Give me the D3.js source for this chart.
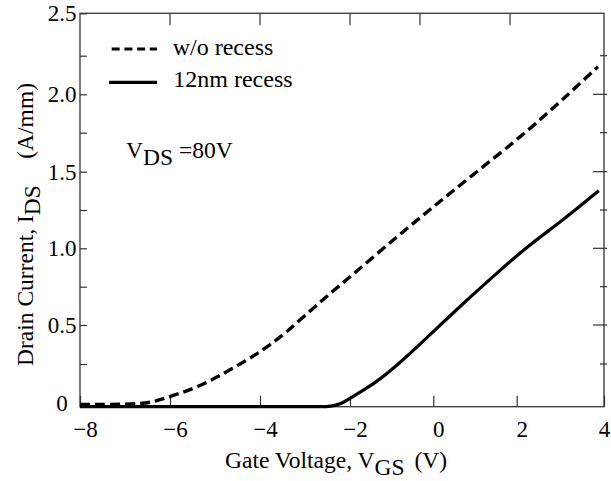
<!DOCTYPE html>
<html>
<head>
<meta charset="utf-8">
<script src="https://cdn.jsdelivr.net/npm/d3@7"></script>
<style>
  html, body { margin: 0; padding: 0; background: #fff; }
  svg { display: block; }
  text { font-family: "Liberation Serif", "Times New Roman", serif; fill: #000; }
</style>
</head>
<body>
<svg id="chart" width="611" height="481"></svg>
<script>
// Gate voltage ticks (V) and drain current ticks (A/mm)
const xTicks = [-8, -6, -4, -2, 0, 2, 4];
const yMajorTicks = [0, 0.5, 1.0, 1.5, 2.0, 2.5];
const yAllTicks = [0, 0.25, 0.5, 0.75, 1.0, 1.25, 1.5, 1.75, 2.0, 2.25, 2.5];
const xTopTicks = [-6, -4, -2, -0.32, 1.84];

// Transfer curve without gate recess (VGS in V, IDS in A/mm)
const vgsNoRecess = [-8, -7.3, -6.67, -6.33, -6.0, -5.33, -4.67, -4.0, -3.45, -2.67, -2.0, -0.8, 0, 0.88, 2.0, 2.53, 2.99, 3.29, 3.86];
const idsNoRecess = [0.013, 0.013, 0.016, 0.030, 0.060, 0.117, 0.215, 0.324, 0.442, 0.650, 0.813, 1.093, 1.270, 1.465, 1.703, 1.833, 1.950, 2.028, 2.179];

// Transfer curve with 12 nm gate recess
const vgsRecess = [-8, -5, -2.8, -2.45, -2.22, -2.0, -1.6, -1.28, -0.72, 0, 0.72, 1.52, 2.23, 3.07, 3.88];
const idsRecess = [0, 0, 0, 0, 0.013, 0.049, 0.108, 0.16, 0.276, 0.457, 0.642, 0.837, 1.01, 1.185, 1.376];

const seriesNames = ["w/o recess", "12nm recess"];

const svg = d3.select("#chart");

// Piecewise scales follow the tick spacing of the printed axes
const x = d3.scaleLinear().domain(xTicks).range([80, 170, 260, 350, 433.3, 516.7, 604]);
const y = d3.scaleLinear().domain(yAllTicks)
  .range([406.7, 364, 325, 286.7, 248.3, 210, 171.7, 132.7, 94.3, 55.7, 13.3]);

const x0 = x(-8), x1 = x(4), yTop = y(2.5), yBot = y(0);
const axisColor = "#333";
const serif = '"Liberation Serif", "Times New Roman", serif';

// Bottom axis: ticks point up into the plot
const gx = svg.append("g").attr("transform", `translate(0,${yBot})`)
  .call(d3.axisBottom(x).tickValues(xTicks).tickSizeInner(-11).tickSizeOuter(0).tickPadding(14)
    .tickFormat(d => d < 0 ? "\u2212" + Math.abs(d) : String(d)));
gx.attr("font-family", serif);
gx.select(".domain").remove();
gx.selectAll(".tick line").attr("stroke", axisColor).attr("stroke-width", 1.2);
gx.selectAll(".tick text").attr("font-size", 23).attr("dx", d => d === 4 ? 0 : 5)
  .style("font-family", serif);

// Left axis: all ticks inward, labels centred in the margin
const gy = svg.append("g").attr("transform", `translate(${x0},0)`)
  .call(d3.axisLeft(y).tickValues(yAllTicks).tickSizeInner(-7).tickSizeOuter(0).tickPadding(18)
    .tickFormat(d => yMajorTicks.includes(d) ? (d === 0 ? "0" : d3.format(".1f")(d)) : ""));
gy.attr("font-family", serif);
gy.select(".domain").remove();
gy.selectAll(".tick line").attr("stroke", axisColor).attr("stroke-width", 1.2);
gy.selectAll(".tick text").attr("font-size", 23).attr("text-anchor", "middle")
  .attr("y", d => d === 0 ? -4 : 0)
  .style("font-family", serif);

// Right axis ticks: majors longer than minors, slightly crossing the frame
svg.append("g").selectAll("line").data(yAllTicks.slice(1, -1)).join("line")
  .attr("x1", d => x1 - (yMajorTicks.includes(d) ? 11 : 4))
  .attr("x2", x1 + 3)
  .attr("y1", d => y(d)).attr("y2", d => y(d))
  .attr("stroke", axisColor).attr("stroke-width", 1.2);

// Top axis ticks
svg.append("g").selectAll("line").data(xTopTicks).join("line")
  .attr("x1", d => x(d)).attr("x2", d => x(d))
  .attr("y1", yTop).attr("y2", yTop + 12)
  .attr("stroke", axisColor).attr("stroke-width", 1.2);

// Frame
svg.append("rect")
  .attr("x", x0).attr("y", yTop).attr("width", x1 - x0).attr("height", yBot - yTop)
  .attr("fill", "none").attr("stroke", axisColor).attr("stroke-width", 1.3);

// Curves
const line = d3.line().x(d => x(d[0])).y(d => y(d[1])).curve(d3.curveBasis);

svg.append("path")
  .datum(d3.zip(vgsNoRecess, idsNoRecess))
  .attr("d", line)
  .attr("fill", "none").attr("stroke", "#000").attr("stroke-width", 3.4)
  .attr("stroke-dasharray", "10,5");

svg.append("path")
  .datum(d3.zip(vgsRecess, idsRecess))
  .attr("d", line)
  .attr("fill", "none").attr("stroke", "#000").attr("stroke-width", 3.2);

// Legend
const legend = svg.append("g");
legend.append("line").attr("x1", 111.7).attr("x2", 157).attr("y1", 49).attr("y2", 49)
  .attr("stroke", "#000").attr("stroke-width", 3.2).attr("stroke-dasharray", "8,4.7");
legend.append("line").attr("x1", 109).attr("x2", 157).attr("y1", 82.3).attr("y2", 82.3)
  .attr("stroke", "#000").attr("stroke-width", 3.2);
legend.append("text").attr("x", 172.7).attr("y", 55).attr("font-size", 24).text(seriesNames[0]);
legend.append("text").attr("x", 173.3).attr("y", 87.3).attr("font-size", 24).text(seriesNames[1]);

// Bias condition
const vds = svg.append("text").attr("x", 126).attr("y", 158.3).attr("font-size", 23.5)
  .attr("xml:space", "preserve").style("white-space", "pre");
vds.append("tspan").text("V");
vds.append("tspan").attr("dy", 7).text("DS");
vds.append("tspan").attr("dy", -7).text(" =80V");

// X axis title
const xt = svg.append("text").attr("x", 225).attr("y", 467.7).attr("font-size", 23.5);
xt.append("tspan").text("Gate Voltage, V");
xt.append("tspan").attr("dy", 7).text("GS");
svg.append("text").attr("x", 447).attr("y", 467.7).attr("font-size", 23.5)
  .attr("text-anchor", "end").text("(V)");

// Y axis title
const yt = svg.append("text").attr("transform", "translate(33,366) rotate(-90)").attr("font-size", 23.5);
yt.append("tspan").text("Drain Current, I");
yt.append("tspan").attr("dy", 7).text("DS");
svg.append("text").attr("transform", "translate(33,83) rotate(-90)").attr("font-size", 23.5)
  .attr("text-anchor", "end").text("(A/mm)");
</script>
</body>
</html>
